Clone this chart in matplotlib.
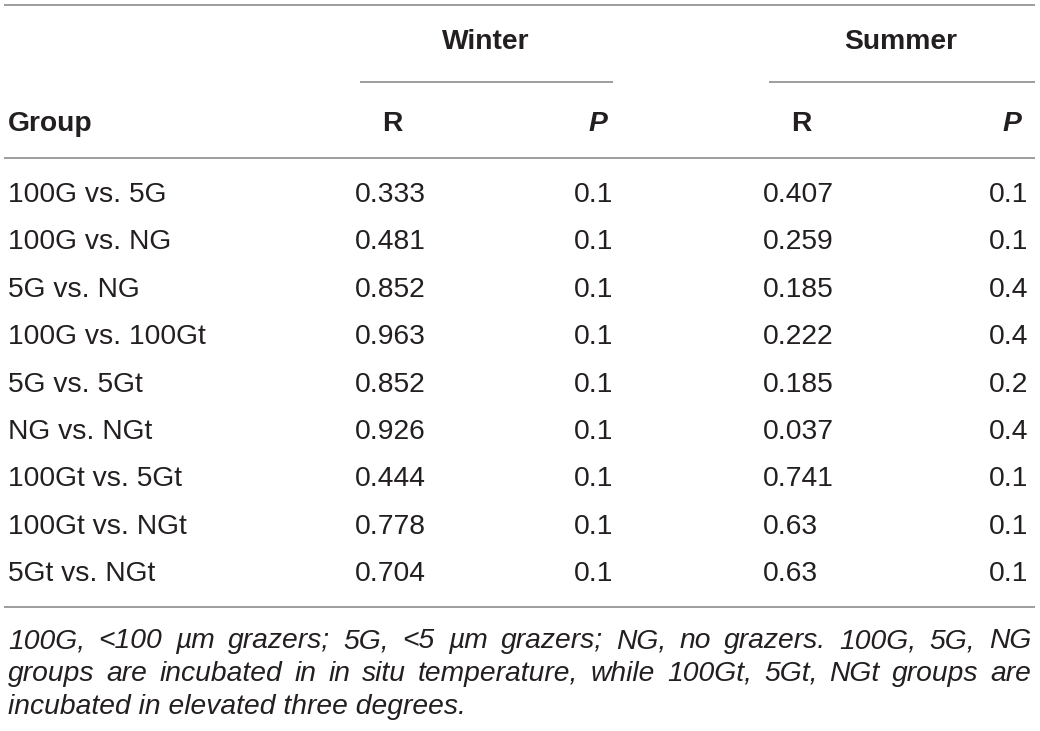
import matplotlib
matplotlib.use("Agg")
import matplotlib.pyplot as plt
from matplotlib import font_manager

groups = ["100G vs. 5G", "100G vs. NG", "5G vs. NG", "100G vs. 100Gt", "5G vs. 5Gt",
          "NG vs. NGt", "100Gt vs. 5Gt", "100Gt vs. NGt", "5Gt vs. NGt"]
winter_R = ["0.333", "0.481", "0.852", "0.963", "0.852", "0.926", "0.444", "0.778", "0.704"]
winter_P = ["0.1", "0.1", "0.1", "0.1", "0.1", "0.1", "0.1", "0.1", "0.1"]
summer_R = ["0.407", "0.259", "0.185", "0.222", "0.185", "0.037", "0.741", "0.63", "0.63"]
summer_P = ["0.1", "0.1", "0.4", "0.4", "0.2", "0.4", "0.1", "0.1", "0.1"]
season_labels = ["Winter", "Summer"]
col_headers = ["Group", "R", "P"]
footnote_lines = [
    "100G, <100 \u00b5m grazers; 5G, <5 \u00b5m grazers; NG, no grazers. 100G, 5G, NG",
    "groups are incubated in in situ temperature, while 100Gt, 5Gt, NGt groups are",
    "incubated in elevated three degrees.",
]

names = {f.name for f in font_manager.fontManager.ttflist}
body_font = "Liberation Sans" if "Liberation Sans" in names else "DejaVu Sans"

TXT = "#231f20"
LINE = "#8c8c8c"
FS = 20.3

fig = plt.figure(figsize=(10.4, 7.31), dpi=100)
ax = fig.add_axes([0, 0, 1, 1])
ax.set_xlim(0, 1040)
ax.set_ylim(731, 0)
ax.axis("off")

# rules
for (x0, x1, y) in [(4, 1035, 5), (360, 613, 82), (769, 1035, 82), (4, 1035, 158), (4, 1035, 607)]:
    ax.plot([x0, x1], [y, y], color=LINE, lw=1.2, solid_capstyle="butt")

# headers
hkw = dict(va="center", fontsize=FS, fontweight="bold", family=body_font, color=TXT)
ax.text(486, 42, season_labels[0], ha="center", **hkw)
ax.text(901, 42, season_labels[1], ha="center", **hkw)
ax.text(8, 124, col_headers[0], ha="left", **hkw)
ax.text(392, 124, col_headers[1], ha="center", **hkw)
ax.text(607, 124, col_headers[2], ha="right", style="italic", **hkw)
ax.text(801, 124, col_headers[1], ha="center", **hkw)
ax.text(1021, 124, col_headers[2], ha="right", style="italic", **hkw)

# body rows
y0, dy = 195, 47.4
kw = dict(va="center", fontsize=FS, family=body_font, color=TXT)
for i, g in enumerate(groups):
    y = y0 + i * dy
    ax.text(8, y, g, ha="left", **kw)
    ax.text(355, y, winter_R[i], ha="left", **kw)
    ax.text(613, y, winter_P[i], ha="right", **kw)
    ax.text(763, y, summer_R[i], ha="left", **kw)
    ax.text(1028, y, summer_P[i], ha="right", **kw)

# footnote (justified)
fig.canvas.draw()
renderer = fig.canvas.get_renderer()
fy = [641, 674, 707]
left, right = 8, 1031
fkw = dict(va="center", fontsize=FS, family=body_font, style="italic", color=TXT)
for li, line in enumerate(footnote_lines):
    if li == len(footnote_lines) - 1:
        ax.text(left, fy[li], line, ha="left", **fkw)
        continue
    words = line.split(" ")
    objs = [ax.text(0, fy[li], w, ha="left", **fkw) for w in words]
    widths = [o.get_window_extent(renderer=renderer).width for o in objs]
    gap = (right - left - sum(widths)) / (len(words) - 1)
    x = left
    for o, w in zip(objs, widths):
        o.set_x(x)
        x += w + gap

fig.savefig("out.png", dpi=100)
